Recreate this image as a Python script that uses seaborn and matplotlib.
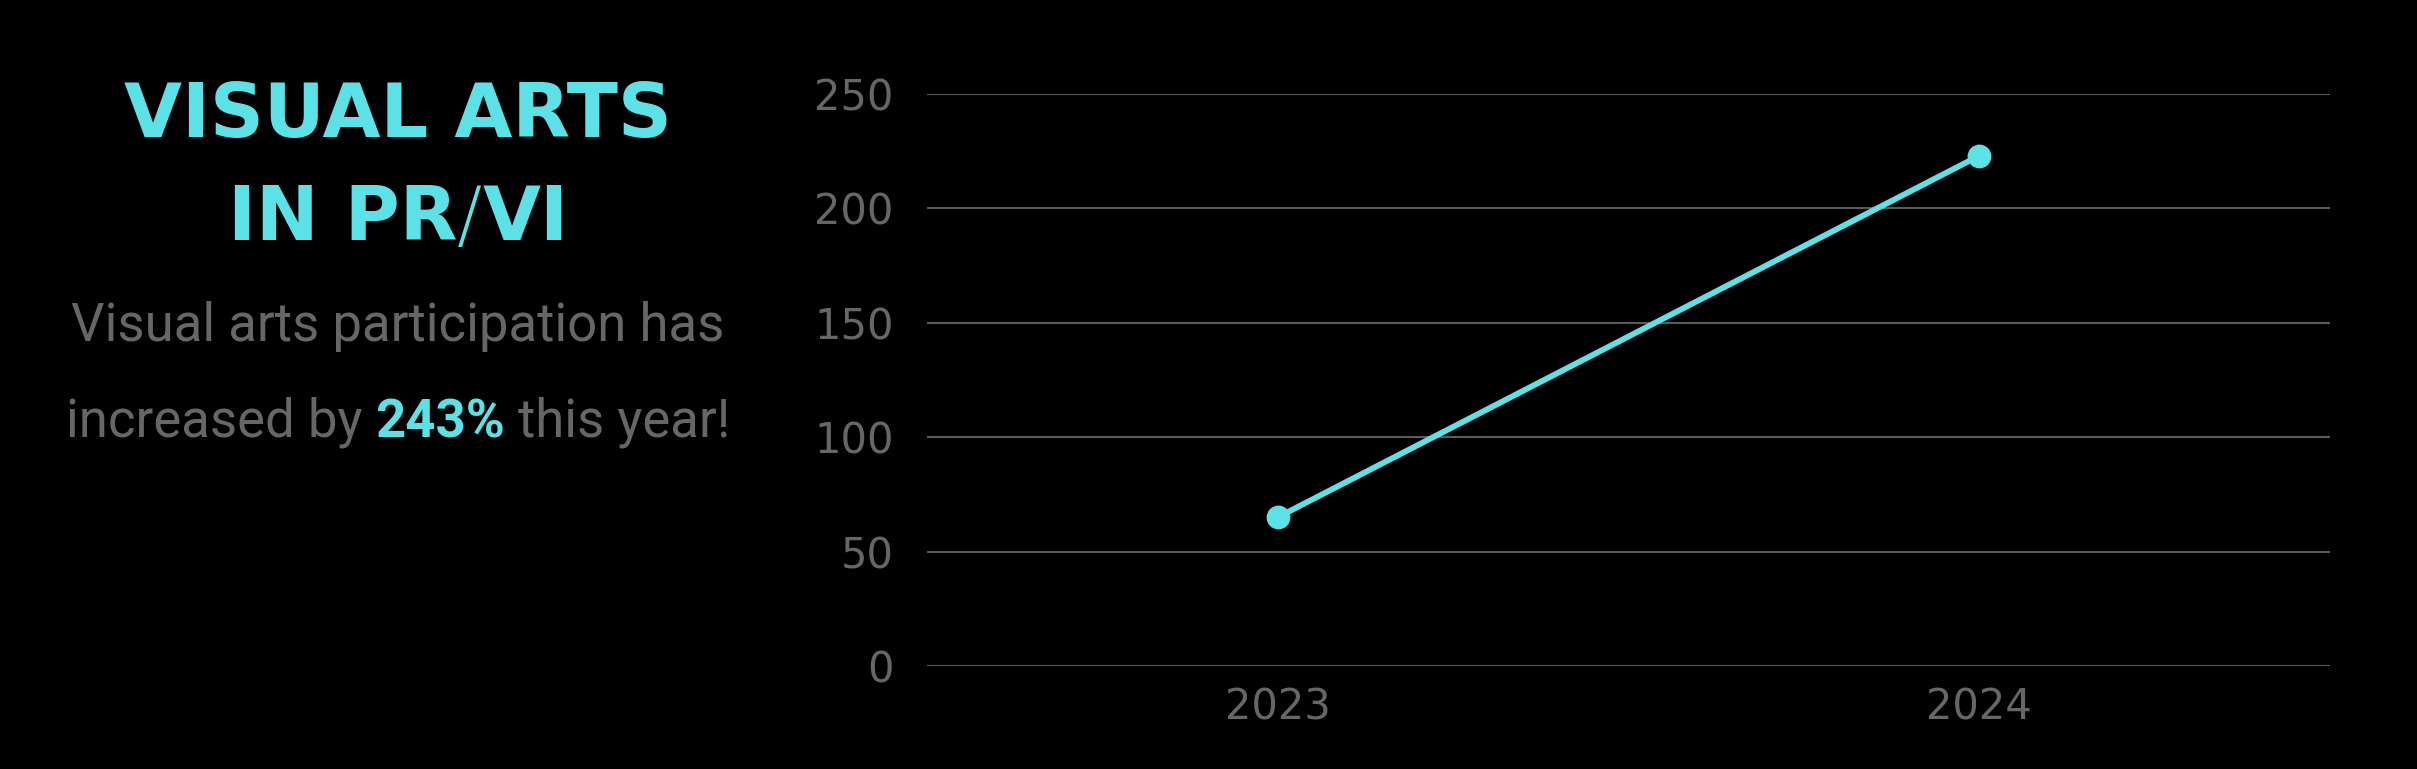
import matplotlib
matplotlib.use("Agg")
import matplotlib.pyplot as plt
import seaborn as sns
import pandas as pd

# ---- data ----
years = ["2023", "2024"]
participants = [65, 223]
y_ticks = [0, 50, 100, 150, 200, 250]
title_line1 = "VISUAL ARTS"
title_line2 = ["IN PR", "/", "VI"]
sub_line1 = "Visual arts participation has"
sub_line2 = ["increased by", "243%", "this year!"]

CYAN = "#5ce1e6"
GRAY = "#666666"
GRID = "#5a5a5a"
BG = "#000000"

sns.set_theme(style="dark")
plt.rcParams["font.family"] = ["DejaVu Sans"]

W, H = 2417, 769
fig = plt.figure(figsize=(W / 100, H / 100), dpi=100, facecolor=BG)
ax = fig.add_axes([927 / W, 1 - 666 / H, (2330 - 927) / W, (666 - 94) / H])
ax.set_facecolor(BG)

df = pd.DataFrame({"year": years, "value": participants})
sns.pointplot(data=df, x="year", y="value", color=CYAN, ax=ax,
              markersize=14, linewidth=4.2, errorbar=None)

ax.set_xlim(-0.5, 1.5)
ax.set_ylim(0, 250)
ax.set_yticks(y_ticks)
ax.set_yticklabels([str(t) for t in y_ticks])
ax.set_xlabel("")
ax.set_ylabel("")
for s in ax.spines.values():
    s.set_visible(False)
ax.grid(False)
for t in y_ticks:
    ax.axhline(t, color=GRID, linewidth=1.5, zorder=0)
ax.tick_params(axis="y", length=0, pad=24, labelsize=30, labelcolor=GRAY)
ax.tick_params(axis="x", length=0, pad=15, labelsize=30, labelcolor=GRAY)

CX = 398 / W
renderer = fig.canvas.get_renderer()


def space_width(font):
    a = fig.text(0, 0, "x x", **font)
    b = fig.text(0, 0, "xx", **font)
    sp = (a.get_window_extent(renderer).width - b.get_window_extent(renderer).width)
    a.remove(); b.remove()
    return sp


def draw_centered(pieces, y, gaps):
    texts = [fig.text(0, y, txt, va="baseline", ha="left", **kw) for txt, kw in pieces]
    widths = [t.get_window_extent(renderer).width for t in texts]
    total = sum(widths) + sum(gaps)
    x = CX * W - total / 2
    for i, t in enumerate(texts):
        t.set_x(x / W)
        x += widths[i]
        if i < len(gaps):
            x += gaps[i]


# Title
tfont = dict(fontsize=54, color=CYAN, family="DejaVu Sans")
fig.text(CX, 1 - 137 / H, title_line1, ha="center", va="baseline",
         fontweight="bold", **tfont)
draw_centered([(title_line2[0], dict(tfont, fontweight="bold")),
               (title_line2[1], dict(tfont, fontweight="light")),
               (title_line2[2], dict(tfont, fontweight="bold"))],
              1 - 240 / H, [0, 0])

# Subtitle
sfont = dict(fontsize=38, color=GRAY, family="Roboto", fontweight="normal")
fig.text(CX, 1 - 341 / H, sub_line1, ha="center", va="baseline", **sfont)
sp = space_width(sfont)
draw_centered([(sub_line2[0], sfont),
               (sub_line2[1], dict(sfont, color=CYAN, fontweight="bold")),
               (sub_line2[2], sfont)],
              1 - 437 / H, [sp, sp])

fig.savefig("out.png", dpi=100, facecolor=BG)
